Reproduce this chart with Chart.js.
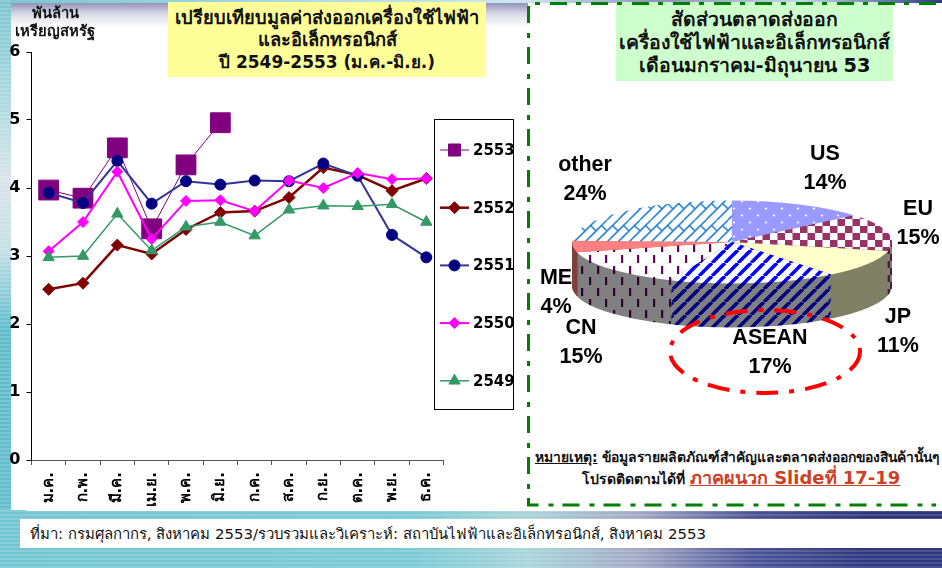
<!DOCTYPE html>
<html lang="th">
<head>
<meta charset="utf-8">
<title>เครื่องใช้ไฟฟ้าและอิเล็กทรอนิกส์</title>
<script src="https://cdn.jsdelivr.net/npm/chart.js@4"></script>
<style>
html, body { margin: 0; padding: 0; }
body { position: relative; width: 942px; height: 568px; overflow: hidden; background: #fff;
  font-family: Tahoma, "DejaVu Sans", "Noto Sans", sans-serif; color: #111; }
.abs { position: absolute; }
#bandTop { left: 0; top: 0; width: 942px; height: 4px;
  background: linear-gradient(90deg, #7cc6d2 0, #b9dfe8 40%, #cfe6ee 56%, #8b93b8 70%, #c5d8e6 85%, #2f3a86 100%); }
#bandLeft { left: 0; top: 0; width: 11px; height: 568px;
  background: repeating-linear-gradient(180deg, rgba(255,255,255,.16) 0 2px, rgba(255,255,255,0) 2px 4px),
    linear-gradient(180deg, #7cc4cf 0, #9dd3da 12%, #d8e4ea 32%, #c5dfe6 44%, #5dbccb 58%, #64bfcd 100%); }
#bandBottom { left: 0; top: 510px; width: 942px; height: 58px;
  background: repeating-linear-gradient(180deg, rgba(255,255,255,.14) 0 2px, rgba(255,255,255,0) 2px 4px),
    linear-gradient(90deg, #74c6d2 0, #7ccad5 44%, #a9d5d9 56%, #a3a8c4 68%, #4b5396 80%, #2f367e 92%, #2f367e 100%); }
#panel { left: 11px; top: 3px; width: 931px; height: 508px; background: #fff; border-bottom-left-radius: 20px; }
#panelTop { left: 11px; top: 3px; width: 517px; height: 24px; background: linear-gradient(180deg, #9393b8 0, #d9d9e6 45%, #fff 100%); }
#chartLeft { left: 0; top: 0; }
#chartRight { left: 530px; top: 72px; }
.title { font-weight: bold; text-align: center; white-space: nowrap; }
#unit { left: 5px; top: 4px; width: 100px; font-size: 14.8px; line-height: 18px; }
#titleLeft { left: 168px; top: 2px; width: 318px; height: 75px; background: #ffff99; font-size: 18.3px; line-height: 22px; padding-top: 5px; box-sizing: border-box; }
#titleLeft span { font-size: 17px; }
#titleRight { left: 616px; top: 2px; width: 277px; height: 79px; background: #ccffcc; font-size: 19.4px; line-height: 23px; padding-top: 6px; box-sizing: border-box; }
#note1 { left: 535px; top: 446px; width: 407px; font-size: 13.9px; font-weight: bold; white-space: nowrap; }
#note1 u { text-decoration: underline; }
#note2 { left: 582px; top: 463px; font-size: 14px; font-weight: bold; white-space: nowrap; }
#note2 u { font-size: 18px; color: #cc4125; }
#footer { left: 20px; top: 519px; width: 922px; height: 29px; background: #fff; font-size: 14.95px; line-height: 30px; padding-left: 10px; box-sizing: border-box; white-space: nowrap; }
svg { position: absolute; left: 0; top: 0; pointer-events: none; }
</style>
</head>
<body>
<div class="abs" id="bandTop"></div>
<div class="abs" id="bandLeft"></div>
<div class="abs" id="bandBottom"></div>
<div class="abs" id="panel"></div>
<div class="abs" id="panelTop"></div>

<canvas class="abs" id="chartLeft" width="520" height="510"></canvas>
<canvas class="abs" id="chartRight" width="412" height="340"></canvas>

<div class="abs title" id="unit">พันล้าน<br>เหรียญสหรัฐ</div>
<div class="abs title" id="titleLeft">เปรียบเทียบมูลค่าส่งออกเครื่องใช้ไฟฟ้า<br>และอิเล็กทรอนิกส์<br><span>ปี 2549-2553 (ม.ค.-มิ.ย.)</span></div>
<div class="abs title" id="titleRight">สัดส่วนตลาดส่งออก<br>เครื่องใช้ไฟฟ้าและอิเล็กทรอนิกส์<br>เดือนมกราคม-มิถุนายน 53</div>
<div class="abs" id="note1"><u>หมายเหตุ:</u> ข้อมูลรายผลิตภัณฑ์สำคัญและตลาดส่งออกของสินค้านั้นๆ</div>
<div class="abs" id="note2">โปรดติดตามได้ที่ <u>ภาคผนวก Slideที่ 17-19</u></div>
<div class="abs" id="footer">ที่มา: กรมศุลกากร, สิงหาคม 2553/รวบรวมและวิเคราะห์: สถาบันไฟฟ้าและอิเล็กทรอนิกส์, สิงหาคม 2553</div>

<svg width="942" height="568">
  <path d="M936 3.5H528.5V505H936" fill="none" stroke="#008000" stroke-width="3" stroke-dasharray="17 10 5 9"/>
  <ellipse cx="765" cy="351.5" rx="95" ry="41.5" fill="none" stroke="#ff0000" stroke-width="4" stroke-dasharray="22 11 5 11"/>
</svg>

<script>
// ข้อมูลกราฟเส้น (พันล้านเหรียญสหรัฐ)
const months = ['ม.ค.','ก.พ.','มี.ค.','เม.ย.','พ.ค.','มิ.ย.','ก.ค.','ส.ค.','ก.ย.','ต.ค.','พ.ย.','ธ.ค.'];
const y2553 = [3.97,3.85,4.59,3.40,4.34,4.96];
const y2552 = [2.51,2.60,3.16,3.03,3.39,3.64,3.66,3.86,4.30,4.19,3.96,4.14];
const y2551 = [3.93,3.78,4.40,3.77,4.10,4.05,4.11,4.10,4.36,4.18,3.31,2.98];
const y2550 = [3.07,3.50,4.24,3.25,3.81,3.82,3.66,4.11,4.00,4.22,4.13,4.14];
const y2549 = [2.98,3.00,3.62,3.08,3.43,3.50,3.30,3.68,3.74,3.73,3.76,3.50];

// สัดส่วนตลาด (ประมาณจากรูป ป้ายปัดเป็นจำนวนเต็ม)
const markets = ['US','EU','JP','ASEAN','CN','ME','other'];
const shares = [13.8,14.7,10.8,17,14.75,4.45,24.49];
const labelSpots = [[825,154],[918,209],[898,317],[770,338],[581,328],[556,278],[585,165]];

const PIE_SQUASH = 0.259;
const PIE_DEPTH = 44;

function line(label, data, color, width, marker, fill, radius, legendRadius, order) {
    return {
        label, data, order,
        borderColor: color, borderWidth: width,
        backgroundColor: fill, pointBackgroundColor: fill, pointBorderColor: fill, pointBorderWidth: 1,
        pointStyle: marker, pointRadius: radius, legendRadius,
        tension: 0, spanGaps: false
    };
}

// กล่องคำอธิบายวาดเองเพราะต้องซ้อนทับพื้นที่กราฟ
const legendBox = {
    id: 'legendBox',
    afterDraw(chart) {
        const { ctx } = chart;
        ctx.save();
        ctx.fillStyle = '#fff';
        ctx.strokeStyle = '#000';
        ctx.lineWidth = 1;
        ctx.fillRect(434.5, 119.5, 79, 290);
        ctx.strokeRect(434.5, 119.5, 79, 290);
        ctx.font = 'bold 15px "DejaVu Sans"';
        ctx.textBaseline = 'middle';
        chart.data.datasets.forEach((ds, i) => {
            const y = 150 + i * 57.7;
            ctx.strokeStyle = ds.borderColor;
            ctx.lineWidth = ds.borderWidth;
            ctx.beginPath();
            ctx.moveTo(440, y);
            ctx.lineTo(469, y);
            ctx.stroke();
            ctx.fillStyle = ds.pointBackgroundColor;
            ctx.strokeStyle = ds.pointBorderColor;
            ctx.lineWidth = 1;
            Chart.helpers.drawPoint(ctx, { pointStyle: ds.pointStyle, radius: ds.legendRadius, rotation: 0, borderWidth: 1 }, 454.5, y);
            ctx.fillStyle = '#000';
            ctx.fillText(ds.label, 473, y + 1);
        });
        ctx.restore();
    }
};

new Chart(document.getElementById('chartLeft'), {
    type: 'line',
    data: {
        labels: months,
        datasets: [
            line('2553', y2553, '#800080', 1, 'rect', '#800080', 14, 8.5, 5),
            line('2552', y2552, '#800000', 2.5, 'rectRot', '#800000', 6, 6, 4),
            line('2551', y2551, '#333399', 2, 'circle', '#000080', 5.5, 5.5, 3),
            line('2550', y2550, '#ff00ff', 2, 'rectRot', '#ff00ff', 5.5, 5.5, 2),
            line('2549', y2549, '#339966', 1.5, 'triangle', '#339966', 6.5, 6.5, 1)
        ]
    },
    options: {
        responsive: false,
        animation: false,
        events: [],
        layout: { padding: { top: 52, right: 76.5, bottom: 0, left: 0 } },
        plugins: { legend: { display: false }, tooltip: { enabled: false } },
        scales: {
            x: {
                offset: true,
                afterFit(s) { s.height = 50; },
                border: { color: '#555', width: 1 },
                grid: { drawOnChartArea: false, drawTicks: true, tickLength: 5, color: '#555', offset: true },
                ticks: { color: '#000', font: { family: '"DejaVu Sans"', size: 15, weight: 'bold' }, minRotation: 90, maxRotation: 90, autoSkip: false, padding: 7 }
            },
            y: {
                min: 0, max: 6,
                afterFit(s) { s.width = 31.5; },
                border: { color: '#000', width: 1 },
                grid: { drawOnChartArea: false, drawTicks: true, tickLength: 5, color: '#000' },
                ticks: { stepSize: 1, color: '#000', font: { family: '"DejaVu Sans"', size: 16, weight: 'bold' }, padding: 6 }
            }
        }
    },
    plugins: [legendBox]
});

// ลวดลายของแต่ละชิ้น
function tile(w, h, paint) {
    const c = document.createElement('canvas');
    c.width = w; c.height = h;
    paint(c.getContext('2d'));
    const p = document.createElement('canvas').getContext('2d').createPattern(c, 'repeat');
    p.setTransform(new DOMMatrix().scale(1, 1 / PIE_SQUASH));
    return p;
}
function dots(bg, fg) {
    return tile(16, 14, g => {
        g.fillStyle = bg; g.fillRect(0, 0, 16, 14);
        g.fillStyle = fg;
        g.beginPath(); g.arc(4, 3.5, 1.1, 0, 7); g.fill();
        g.beginPath(); g.arc(12, 10.5, 1.1, 0, 7); g.fill();
    });
}
function checks(bg, fg) {
    return tile(15, 14, g => {
        g.fillStyle = bg; g.fillRect(0, 0, 15, 14);
        g.fillStyle = fg;
        g.fillRect(0, 0, 7.5, 7);
        g.fillRect(7.5, 7, 7.5, 7);
    });
}
function stripes(bg, fg) {
    return tile(13, 13, g => {
        g.fillStyle = bg; g.fillRect(0, 0, 13, 13);
        g.strokeStyle = fg; g.lineWidth = 3.6;
        [-13, 0, 13, 26].forEach(o => { g.beginPath(); g.moveTo(o, 13); g.lineTo(o + 13, 0); g.stroke(); });
    });
}
function dashes(bg, fg) {
    return tile(16, 22, g => {
        g.fillStyle = bg; g.fillRect(0, 0, 16, 22);
        g.fillStyle = fg;
        g.fillRect(3, 2, 2.2, 8);
        g.fillRect(11, 13, 2.2, 8);
    });
}
function bricks(bg, fg) {
    return tile(22, 22, g => {
        g.fillStyle = bg; g.fillRect(0, 0, 22, 22);
        g.strokeStyle = fg; g.lineWidth = 1.6;
        [-11, 0, 11, 22, 33].forEach(o => { g.beginPath(); g.moveTo(o - 11, 22); g.lineTo(o + 11, 0); g.stroke(); });
        [[5.5, 5.5], [16.5, 5.5]].forEach(([x, y]) => { g.beginPath(); g.moveTo(x, y); g.lineTo(x + 5.5, y + 5.5); g.stroke(); });
    });
}

const faceFills = [
    dots('#9999ff', '#fff'), checks('#fff', '#993366'), '#ffffcc',
    stripes('#fff', '#0000ff'), dashes('#fff', '#660066'), '#ff8080', bricks('#fff', '#2a86d6')
];
const wallFills = [
    '#6f6fb0', checks('#808080', '#4d1a40'), '#808066',
    stripes('#808080', '#000080'), dashes('#808080', '#330033'), '#804040', '#808080'
];

// กดวงกลมให้แบนแล้วซ้อนชิ้นสีเข้มด้านล่างเป็นความหนา
const squashPie = {
    id: 'squashPie',
    beforeDatasetsDraw(chart) {
        const { ctx } = chart;
        const arcs = chart.getDatasetMeta(0).data;
        const cx = arcs[0].x, cy = arcs[0].y;
        ctx.save();
        ctx.translate(cx, cy);
        ctx.scale(1, PIE_SQUASH);
        ctx.translate(-cx, -cy);
        for (let d = PIE_DEPTH; d >= 1; d--) {
            const shift = d / PIE_SQUASH;
            ctx.save();
            ctx.translate(0, shift);
            arcs.forEach((arc, i) => {
                const fill = wallFills[i];
                if (fill instanceof CanvasPattern) {
                    fill.setTransform(new DOMMatrix().translate(0, -shift).scale(1, 1 / PIE_SQUASH));
                }
                const own = arc.options;
                arc.options = { ...own, backgroundColor: fill, borderWidth: 0 };
                arc.draw(ctx);
                arc.options = own;
            });
            ctx.restore();
        }
    },
    afterDatasetsDraw(chart) {
        chart.ctx.restore();
    },
    afterDraw(chart) {
        const { ctx } = chart;
        ctx.save();
        ctx.fillStyle = '#000';
        ctx.textAlign = 'center';
        ctx.textBaseline = 'middle';
        ctx.font = 'bold 21.5px "Liberation Sans"';
        chart.data.labels.forEach((name, i) => {
            const [x, y] = labelSpots[i];
            ctx.fillText(name, x - 530, y - 72);
            ctx.fillText(Math.round(chart.data.datasets[0].data[i]) + '%', x - 530, y + 29.5 - 72);
        });
        ctx.restore();
    }
};

new Chart(document.getElementById('chartRight'), {
    type: 'pie',
    data: {
        labels: markets,
        datasets: [{ data: shares, backgroundColor: faceFills, borderWidth: 0 }]
    },
    options: {
        responsive: false,
        animation: false,
        events: [],
        radius: 160,
        layout: { padding: { right: 8 } },
        plugins: { legend: { display: false }, tooltip: { enabled: false } }
    },
    plugins: [squashPie]
});
</script>
</body>
</html>
